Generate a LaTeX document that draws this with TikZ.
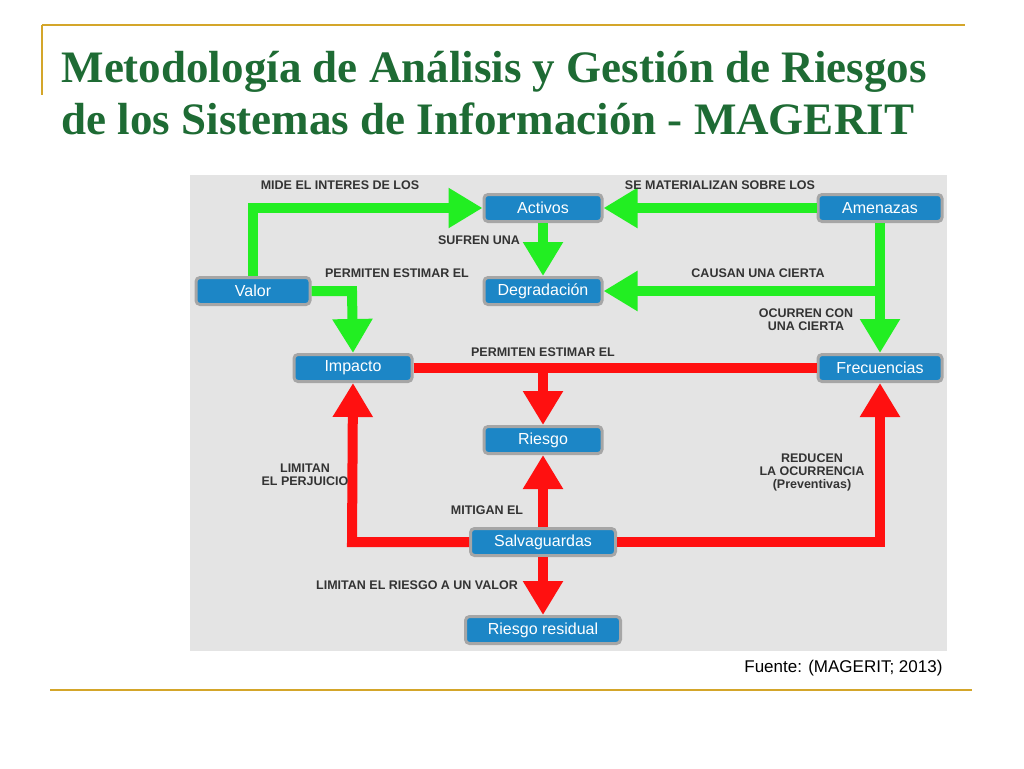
\documentclass[tikz,border=0pt]{standalone}
\usepackage{fontspec}
\setmainfont{Liberation Serif}
\setsansfont{Liberation Sans}
\usetikzlibrary{arrows.meta}
\definecolor{titgreen}{HTML}{1E6B34}
\definecolor{gold}{HTML}{D4A62A}
\definecolor{panel}{HTML}{E4E4E4}
\definecolor{boxblue}{HTML}{1C86C6}
\definecolor{arrgreen}{HTML}{22EE22}
\definecolor{arrred}{HTML}{FF1010}
\tikzset{
  box/.style={draw=gray!70,line width=3pt,rounded corners=4pt,fill=boxblue,text=white,
    font=\sffamily\fontsize{16}{18}\selectfont,minimum height=27pt,inner sep=2pt},
  lbl/.style={font=\sffamily\bfseries\fontsize{12.5}{13}\selectfont,text=black!80,align=center},
  garr/.style={draw=arrgreen,line width=10pt,line join=miter,-{Triangle[width=38pt,length=34pt]}},
  rarr/.style={draw=arrred,line width=10pt,line join=miter,-{Triangle[width=38pt,length=34pt]}},
  rline/.style={draw=arrred,line width=10pt},
}
\begin{document}
\begin{tikzpicture}[x=1pt,y=-1pt]
\useasboundingbox (0,0) rectangle (1024,768);
% frame lines
\draw[gold,line width=2pt] (42,25) -- (965,25);
\draw[gold,line width=2pt] (42,25) -- (42,95);
\draw[gold,line width=2pt] (50,690) -- (972,690);
% title
\node[anchor=west,text=titgreen,font=\bfseries\fontsize{45}{52}\selectfont,align=left] (title) at (58,93)
  {Metodología de Análisis y Gestión de Riesgos\\de los Sistemas de Información - MAGERIT};
\fill[panel] (190,175) rectangle (947,651);
% boxes
\node[box,minimum width=118pt] (act) at (543,208) {Activos};
\node[box,minimum width=124pt] (ame) at (880,208) {Amenazas};
\node[box,minimum width=114pt] (val) at (253,291) {Valor};
\node[box,minimum width=118pt] (deg) at (543,291) {Degradación};
\node[box,minimum width=118pt] (imp) at (353,368) {Impacto};
\node[box,minimum width=124pt] (fre) at (880,368) {Frecuencias};
\node[box,minimum width=118pt] (rie) at (543,440) {Riesgo};
\node[box,minimum width=145pt] (sal) at (543,542) {Salvaguardas};
\node[box,minimum width=155pt] (res) at (543,630) {Riesgo residual};
% corner points
\coordinate (c1) at (253,208);
\coordinate (c2) at (352,291);
\coordinate (c3) at (880,291);
\coordinate (c4) at (543,368);
\coordinate (c5) at (352,542);
\coordinate (c6) at (880,542);
% green arrows
\draw[garr] (val.north) -- (c1) -- (act.west);
\draw[garr] (ame.west) -- (act.east);
\draw[garr] (act.south) -- (deg.north);
\draw[garr] (ame.south) -- (fre.north);
\draw[garr] (c3) -- (deg.east);
\draw[garr] (val.east) -- (c2) -- (imp.north);
% red arrows
\draw[rline] (imp.east) -- (fre.west);
\draw[rarr] (c4) -- (rie.north);
\draw[rarr] (sal.north) -- (rie.south);
\draw[rarr] (sal.west) -- (c5) -- (imp.south);
\draw[rarr] (sal.east) -- (c6) -- (fre.south);
\draw[rarr] (sal.south) -- (res.north);
% labels
\node[lbl] (l1) at (340,185) {MIDE EL INTERES DE LOS};
\node[lbl] (l2) at (720,185) {SE MATERIALIZAN SOBRE LOS};
\node[lbl] (l3) at (479,240) {SUFREN UNA};
\node[lbl] (l4) at (397,273) {PERMITEN ESTIMAR EL};
\node[lbl] (l5) at (758,273) {CAUSAN UNA CIERTA};
\node[lbl] (l6) at (806,320) {OCURREN CON\\UNA CIERTA};
\node[lbl] (l7) at (543,352) {PERMITEN ESTIMAR EL};
\node[lbl] (l8) at (305,475) {LIMITAN\\EL PERJUICIO};
\node[lbl] (l9) at (812,472) {REDUCEN\\LA OCURRENCIA\\(Preventivas)};
\node[lbl] (l10) at (487,510) {MITIGAN EL};
\node[lbl] (l11) at (417,585) {LIMITAN EL RIESGO A UN VALOR};
\node[anchor=east,font=\sffamily\fontsize{17}{20}\selectfont] (src) at (946,668) {Fuente: (MAGERIT; 2013)};
\end{tikzpicture}
\end{document}
